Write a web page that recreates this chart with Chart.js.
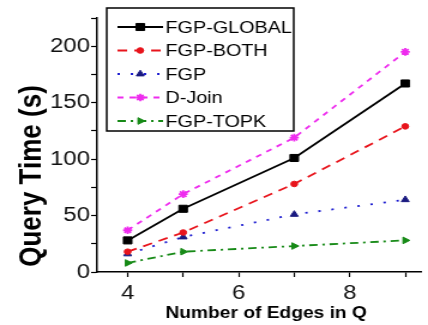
<!DOCTYPE html>
<html>
<head>
<meta charset="utf-8">
<script src="https://cdn.jsdelivr.net/npm/chart.js@4/dist/chart.umd.min.js"></script>
<style>
  html, body { margin: 0; padding: 0; background: #fff; overflow: hidden; }
  /* la figura original tiene el texto ensanchado: se dibuja angosta y se estira en X */
  #wrap { width: 357px; height: 325px; transform: scaleX(1.1989); transform-origin: 0 0; }
</style>
</head>
<body>
<div id="wrap"><canvas id="chart"></canvas></div>
<script>
// Número de aristas en Q
const EDGES = [4, 5, 7, 9];

// Tiempo de consulta (s) por método
const FGP_GLOBAL = [28, 56, 101, 167];
const FGP_BOTH = [18, 35, 78, 129];
const FGP = [16, 31, 51, 64];
const D_JOIN = [37, 69, 119, 195];
const FGP_TOPK = [8, 18, 23, 28];

// Marcas de los ejes (las menores van sin etiqueta)
const X_TICKS = [4, 5, 6, 7, 8, 9];
const X_LABELS = [4, 6, 8];
const Y_TICKS = [0, 25, 50, 75, 100, 125, 150, 175, 200, 225];
const Y_LABELS = [0, 50, 100, 150, 200];

const FONT = "'Liberation Sans', Arial, sans-serif";

function series(label, values, color, extra) {
  return {
    label,
    data: values.map((v, i) => ({ x: EDGES[i], y: v })),
    borderColor: color,
    backgroundColor: color,
    pointBackgroundColor: color,
    pointBorderColor: color,
    borderWidth: 1.8,
    pointBorderWidth: 1,
    tension: 0,
    ...extra
  };
}

const datasets = [
  series('FGP-GLOBAL', FGP_GLOBAL, '#000000', { pointStyle: 'rect', pointRadius: 5 }),
  series('FGP-BOTH', FGP_BOTH, '#e8141c', { borderDash: [8, 6], pointStyle: 'circle', pointRadius: 2.8 }),
  series('FGP', FGP, '#1c1cd0', { borderDash: [2, 9], pointStyle: 'triangle', pointRadius: 3.8,
    pointBackgroundColor: '#1a1a80', pointBorderColor: '#1a1a80' }),
  series('D-Join', D_JOIN, '#ee2cee', { borderDash: [5, 5], pointStyle: 'star', pointRadius: 3.8, pointBorderWidth: 1.8 }),
  series('FGP-TOPK', FGP_TOPK, '#178a17', { borderDash: [7, 4, 2, 4], pointStyle: 'triangle', pointRadius: 3.8, pointRotation: 90 })
];

// Leyenda con marco, dentro del área del gráfico
const legendBox = {
  id: 'legendBox',
  afterDraw(chart) {
    const ctx = chart.ctx;
    ctx.save();
    ctx.fillStyle = '#fff';
    ctx.fillRect(89, 8, 156, 123);
    ctx.lineWidth = 1.5;
    ctx.strokeStyle = '#000';
    ctx.strokeRect(89, 8, 156, 123);

    chart.data.datasets.forEach((ds, i) => {
      const y = 27 + i * 23.5;
      ctx.strokeStyle = ds.borderColor;
      ctx.lineWidth = ds.borderWidth;
      ctx.setLineDash(ds.borderDash || []);
      ctx.beginPath();
      ctx.moveTo(98, y);
      ctx.lineTo(136, y);
      ctx.stroke();
      ctx.setLineDash([]);

      ctx.fillStyle = ds.pointBackgroundColor;
      ctx.strokeStyle = ds.pointBorderColor;
      ctx.lineWidth = ds.pointBorderWidth;
      Chart.helpers.drawPoint(ctx, {
        pointStyle: ds.pointStyle,
        radius: ds.pointRadius,
        rotation: ds.pointRotation || 0,
        borderWidth: ds.pointBorderWidth
      }, 117, y);

      ctx.fillStyle = '#000';
      ctx.font = '16.5px ' + FONT;
      ctx.textAlign = 'left';
      ctx.textBaseline = 'middle';
      ctx.fillText(ds.label, 138, y + 1);
    });
    ctx.restore();
  }
};

// Títulos de los ejes
const axisTitles = {
  id: 'axisTitles',
  afterDraw(chart) {
    const ctx = chart.ctx;
    ctx.save();
    ctx.fillStyle = '#000';
    ctx.textAlign = 'center';
    ctx.textBaseline = 'middle';

    ctx.font = 'bold 16px ' + FONT;
    ctx.fillText('Number of Edges in Q', 222, 314);

    ctx.translate(27, 176);
    ctx.rotate(-Math.PI / 2);
    ctx.font = 'bold 26px ' + FONT;
    ctx.fillText('Query Time (s)', 0, 0);
    ctx.restore();
  }
};

const axisStyle = {
  grid: { drawOnChartArea: false, drawTicks: true, tickLength: 5, tickColor: '#000', tickWidth: 1.2 },
  border: { display: true, color: '#000', width: 1.5 }
};

new Chart(document.getElementById('chart'), {
  type: 'line',
  data: { datasets },
  options: {
    responsive: true,
    maintainAspectRatio: false,
    animation: false,
    layout: { padding: { left: 0, right: 1, top: 18, bottom: 0 } },
    plugins: {
      legend: { display: false },
      tooltip: { enabled: false }
    },
    scales: {
      x: {
        type: 'linear',
        min: 3.45,
        max: 9.28,
        ...axisStyle,
        afterBuildTicks: scale => { scale.ticks = X_TICKS.map(v => ({ value: v })); },
        afterFit: scale => { scale.height = 53; },
        ticks: {
          autoSkip: false,
          maxRotation: 0,
          padding: 4,
          color: '#111',
          font: { family: FONT, size: 20 },
          callback: v => X_LABELS.includes(v) ? String(v) : ''
        }
      },
      y: {
        min: 0,
        max: 225,
        ...axisStyle,
        afterBuildTicks: scale => { scale.ticks = Y_TICKS.map(v => ({ value: v })); },
        afterFit: scale => { scale.width = 81; },
        ticks: {
          autoSkip: false,
          padding: 1,
          color: '#111',
          font: { family: FONT, size: 20 },
          callback: v => Y_LABELS.includes(v) ? String(v) : ''
        }
      }
    }
  },
  plugins: [legendBox, axisTitles]
});
</script>
</body>
</html>
